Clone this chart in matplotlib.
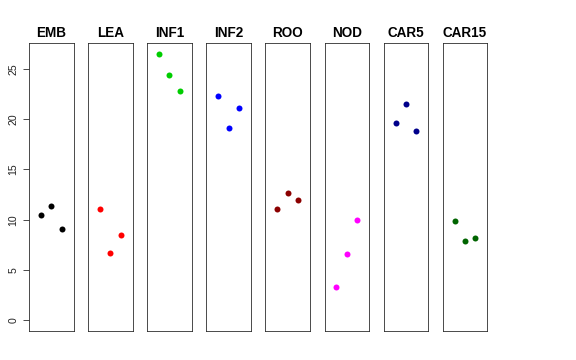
import numpy as np
import matplotlib
matplotlib.use('Agg')
import matplotlib.pyplot as plt

plt.rcParams['font.family'] = ['Liberation Sans', 'DejaVu Sans']

tissues = ['EMB', 'LEA', 'INF1', 'INF2', 'ROO', 'NOD', 'CAR5', 'CAR15']
colors = ['#000000', '#FF0000', '#00CD00', '#0000FF',
          '#8B0000', '#FF00FF', '#00008B', '#006400']
reps = [1, 2, 3]
values = [
    [10.5, 11.35, 9.06],
    [11.1, 6.67, 8.5],
    [26.5, 24.35, 22.8],
    [22.3, 19.15, 21.15],
    [11.1, 12.65, 11.95],
    [3.3, 6.6, 9.95],
    [19.6, 21.5, 18.8],
    [9.85, 7.85, 8.15],
]

W, H = 576, 360
fig = plt.figure(figsize=(W / 72, H / 72), dpi=72)

ymax = max(max(v) for v in values)
pad = 0.04 * ymax
for i, (name, col, vals) in enumerate(zip(tissues, colors, values)):
    left = 29 + i * 59.1
    ax = fig.add_axes([left / W, 29 / H, 44.5 / W, 288 / H])
    ax.plot(reps, vals, 'o', color=col, markersize=6, mew=0)
    ax.set_xlim(-0.16, 4.16)
    ax.set_ylim(-pad, ymax + pad)
    ax.set_xticks([])
    ax.set_title(name, fontsize=13.5, fontweight='bold', pad=6)
    for s in ax.spines.values():
        s.set_linewidth(0.8)
        s.set_color('#222222')
    if i == 0:
        ax.set_yticks([0, 5, 10, 15, 20, 25])
        ax.tick_params(axis='y', length=6.5, width=0.8, labelsize=10.5,
                       labelrotation=90, pad=4, colors='#222222')
        for lab in ax.get_yticklabels():
            lab.set_va('center')
    else:
        ax.set_yticks([])

fig.savefig('out.png', dpi=72)
